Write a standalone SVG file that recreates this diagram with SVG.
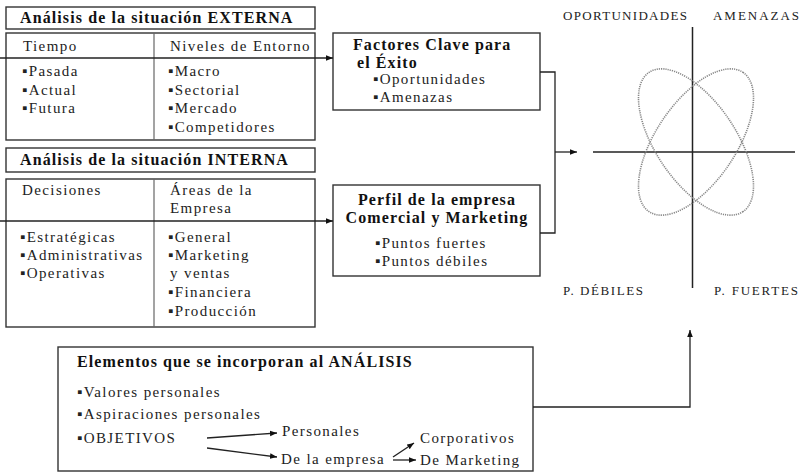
<svg xmlns="http://www.w3.org/2000/svg" width="803" height="473" viewBox="0 0 803 473">
<defs>
<marker id="arr" viewBox="0 0 10 10" refX="10" refY="5" markerWidth="7" markerHeight="7" markerUnits="userSpaceOnUse" orient="auto"><path d="M0,1 L10,5 L0,9 z" fill="#111"/></marker>
</defs>
<style>
.box{fill:#fff;stroke:#333;stroke-width:1.4}
.dv{stroke:#666;stroke-width:1.2}
text{font-family:'Liberation Serif','DejaVu Serif',serif}
.t{font-size:15px;letter-spacing:1.4px;fill:#222}
.b{font-size:16px;font-weight:bold;letter-spacing:1.1px;fill:#111}
.q{font-size:13px;fill:#222}
.c{fill:none;stroke:#222;stroke-width:1.3}
.ax{fill:none;stroke:#222;stroke-width:1.5}
.e{fill:none;stroke:#888;stroke-width:1.6;stroke-dasharray:1.2 1}
</style>
<rect width="803" height="473" fill="#fff"/>

<g id="externa-title">
<rect class="box" x="6" y="7" width="309" height="22"/>
<text class="b" x="20" y="23">Análisis de la situación EXTERNA</text>
</g>
<g id="externa-table">
<rect class="box" x="6" y="33" width="309" height="107"/>
<line class="dv" x1="154" y1="33" x2="154" y2="140"/>
<text class="t" x="23" y="51">Tiempo</text>
<text class="t" x="22" y="76">▪Pasada</text>
<text class="t" x="22" y="94.5">▪Actual</text>
<text class="t" x="22" y="113">▪Futura</text>
<text class="t" x="170" y="51">Niveles de Entorno</text>
<text class="t" x="168" y="76">▪Macro</text>
<text class="t" x="168" y="94.5">▪Sectorial</text>
<text class="t" x="168" y="113">▪Mercado</text>
<text class="t" x="168" y="131.5">▪Competidores</text>
</g>

<g id="interna-title">
<rect class="box" x="6" y="148" width="309" height="24"/>
<text class="b" x="20" y="165">Análisis de la situación INTERNA</text>
</g>
<g id="interna-table">
<rect class="box" x="6" y="179" width="309" height="148"/>
<line class="dv" x1="154" y1="179" x2="154" y2="327"/>
<text class="t" x="22" y="195">Decisiones</text>
<text class="t" x="170" y="195">Áreas de la</text>
<text class="t" x="170" y="213">Empresa</text>
<text class="t" x="20" y="242">▪Estratégicas</text>
<text class="t" x="20" y="260">▪Administrativas</text>
<text class="t" x="20" y="278">▪Operativas</text>
<text class="t" x="168" y="242">▪General</text>
<text class="t" x="168" y="260">▪Marketing</text>
<text class="t" x="170" y="278">y ventas</text>
<text class="t" x="168" y="297">▪Financiera</text>
<text class="t" x="168" y="316">▪Producción</text>
</g>

<g id="factores">
<rect class="box" x="333" y="33" width="207" height="77"/>
<text class="b" x="353" y="50">Factores Clave para</text>
<text class="b" x="357" y="68">el Éxito</text>
<text class="t" x="373" y="84">▪Oportunidades</text>
<text class="t" x="373" y="102">▪Amenazas</text>
</g>

<g id="perfil">
<rect class="box" x="333" y="185" width="207" height="91"/>
<text class="b" x="437" y="205" text-anchor="middle">Perfil de la empresa</text>
<text class="b" x="437" y="223" text-anchor="middle">Comercial y Marketing</text>
<text class="t" x="375" y="248">▪Puntos fuertes</text>
<text class="t" x="375" y="266">▪Puntos débiles</text>
</g>

<g id="matriz">
<line class="ax" x1="593" y1="152" x2="795" y2="152"/>
<line class="ax" x1="692.5" y1="27" x2="692.5" y2="288"/>
<ellipse class="e" cx="696" cy="142" rx="84" ry="40" transform="rotate(-56 696 142)"/>
<ellipse class="e" cx="696" cy="142" rx="84" ry="40" transform="rotate(56 696 142)"/>
<text class="q" x="563" y="20" textLength="124" lengthAdjust="spacing">OPORTUNIDADES</text>
<text class="q" x="713" y="20" textLength="86" lengthAdjust="spacing">AMENAZAS</text>
<text class="q" x="563" y="295" textLength="80" lengthAdjust="spacing">P. DÉBILES</text>
<text class="q" x="714" y="295" textLength="84" lengthAdjust="spacing">P. FUERTES</text>
</g>

<g id="elementos">
<rect class="box" x="58" y="347" width="475" height="124"/>
<text class="b" x="77" y="367">Elementos que se incorporan al ANÁLISIS</text>
<text class="t" x="77" y="397">▪Valores personales</text>
<text class="t" x="77" y="419">▪Aspiraciones personales</text>
<text class="t" x="77" y="443">▪OBJETIVOS</text>
<text class="t" x="282" y="436">Personales</text>
<text class="t" x="281" y="464">De la empresa</text>
<text class="t" x="420" y="443">Corporativos</text>
<text class="t" x="420" y="465">De Marketing</text>
</g>

<g id="connectors">
<path class="c" d="M0,58 H333" marker-end="url(#arr)"/>
<path class="c" d="M0,221 H333" marker-end="url(#arr)"/>
<path class="c" d="M540,72 H555 V233 H540"/>
<path class="c" d="M555,152 H577" marker-end="url(#arr)"/>
<path class="c" d="M533,407 H690 V330" marker-end="url(#arr)"/>
<path class="c" d="M207,438 L277,433" marker-end="url(#arr)"/>
<path class="c" d="M207,448 L277,457" marker-end="url(#arr)"/>
<path class="c" d="M393,457 L414,443" marker-end="url(#arr)"/>
<path class="c" d="M393,460 L416,460" marker-end="url(#arr)"/>
</g>
</svg>
